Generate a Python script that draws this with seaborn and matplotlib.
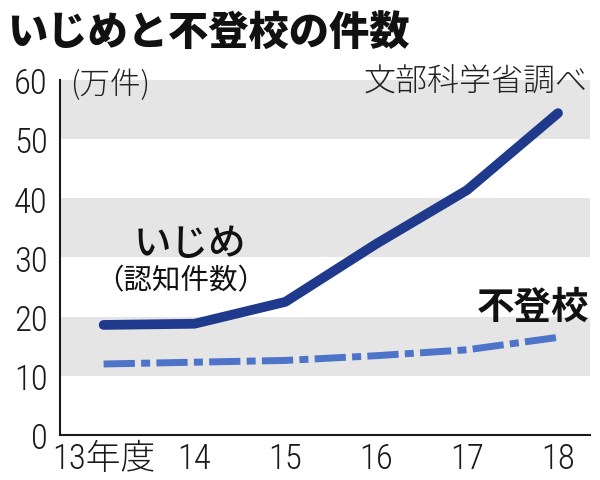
import matplotlib
matplotlib.use("Agg")
import matplotlib.pyplot as plt
from matplotlib import font_manager
import pandas as pd
import seaborn as sns

years = [13, 14, 15, 16, 17, 18]
year_labels = ["13年度", "14", "15", "16", "17", "18"]
ijime = [18.6, 18.8, 22.5, 32.3, 41.4, 54.4]
futoko = [12.0, 12.3, 12.6, 13.4, 14.4, 16.5]
yticks = [0, 10, 20, 30, 40, 50, 60]

df = pd.DataFrame({"year": years, "ijime": ijime, "futoko": futoko})

sns.set_style("white")
fl = font_manager.fontManager.ttflist
names = {f.name for f in fl}
# narrow font for the numbers if one is around
num_font, num_stretch = "Liberation Sans", "normal"
if "Liberation Sans Narrow" in names:
    num_font = "Liberation Sans Narrow"
elif "Roboto Condensed" in names:
    num_font = "Roboto Condensed"
elif any(f.name == "DejaVu Sans" and f.stretch == "condensed" for f in fl):
    num_font, num_stretch = "DejaVu Sans", "condensed"
plt.rcParams["font.family"] = [num_font, "Noto Sans CJK JP", "DejaVu Sans"]
plt.rcParams["font.stretch"] = num_stretch
jp = ["Noto Sans CJK JP", "DejaVu Sans"]

fig = plt.figure(figsize=(6, 4.81), dpi=100)
ax = fig.add_axes([0.1, 0.0936, 0.883, 0.738])

# grey bands
for lo in (10, 30, 50):
    ax.axhspan(lo, lo + 10, color="#e5e5e5", lw=0, zorder=0)

sns.lineplot(data=df, x="year", y="futoko", ax=ax, color="#4d74c9", lw=5.0,
             dashes=False, zorder=3)
ax.lines[-1].set_dashes([4.5, 0.9, 1.3, 0.9])
ax.lines[-1].set_dash_capstyle("butt")
sns.lineplot(data=df, x="year", y="ijime", ax=ax, color="#1f3a8c", lw=7.0,
             zorder=4)
ax.lines[-1].set_solid_capstyle("round")
ax.lines[-1].set_solid_joinstyle("round")

ax.set_xlim(12.52, 18.35)
ax.set_ylim(0, 60)
ax.set_xticks(years)
ax.set_xticklabels(year_labels, family=[num_font] + jp, fontweight="light")
ax.set_yticks(yticks)
ax.set_yticklabels([str(v) for v in yticks], fontweight="light")
ax.tick_params(axis="both", direction="in", length=8, width=1.5,
               labelsize=25, colors="#1a1a1a", pad=9)
ax.tick_params(axis="x", pad=5)
ax.set_xlabel("")
ax.set_ylabel("")
for s in ("top", "right"):
    ax.spines[s].set_visible(False)
for s in ("left", "bottom"):
    ax.spines[s].set_linewidth(1.5)
    ax.spines[s].set_color("#1a1a1a")

fig.text(0.012, 0.932, "いじめと不登校の件数", family=jp, fontsize=29,
         fontweight="heavy", va="center", ha="left", color="#111111")
ax.text(12.63, 59.3, "(万件)", family=jp, fontsize=22, va="center",
        color="#222222", fontweight="light")
ax.text(18.33, 59.8, "文部科学省調べ", family=jp, fontsize=23, va="center",
        ha="right", color="#222222", fontweight="light")
ax.text(13.95, 32.4, "いじめ", family=jp, fontsize=27, va="center",
        ha="center", color="#111111", fontweight="medium")
ax.text(13.85, 26.2, "（認知件数）", family=jp, fontsize=20.5, va="center",
        ha="center", color="#111111")
ax.text(17.72, 21.8, "不登校", family=jp, fontsize=27, va="center",
        ha="center", color="#111111", fontweight="bold")

fig.savefig("out.png", dpi=100)
